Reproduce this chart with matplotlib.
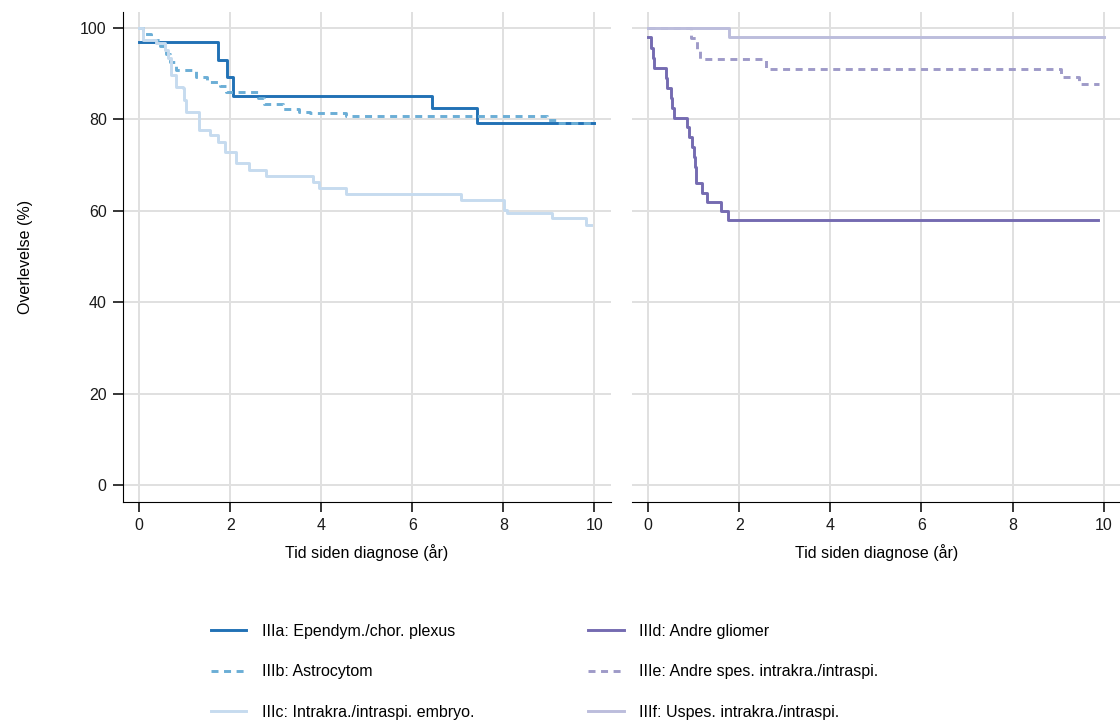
import numpy as np
import matplotlib
matplotlib.use("Agg")
import matplotlib.pyplot as plt

plt.rcParams['font.family'] = ['Liberation Sans', 'DejaVu Sans']

# Kaplan-Meier kurver, aflest fra figuren (tid i år, overlevelse i %)
t_a = [0, 1.74, 1.92, 2.05, 6.43, 7.43, 10.0]
s_a = [96.9, 93.0, 89.2, 85.2, 82.4, 79.1, 79.1]

t_b = [0, 0.08, 0.25, 0.45, 0.58, 0.68, 0.8, 1.25, 1.48, 1.77, 1.9, 2.6, 2.75, 3.15, 3.5, 3.75, 4.55, 8.95, 9.2, 10.0]
s_b = [100, 98.6, 97.3, 96.0, 94.3, 92.5, 90.9, 89.2, 88.1, 87.4, 85.9, 84.6, 83.4, 82.2, 81.7, 81.3, 80.7, 79.9, 79.3, 79.3]

t_c = [0, 0.08, 0.37, 0.56, 0.63, 0.7, 0.81, 0.96, 0.99, 1.03, 1.31, 1.55, 1.73, 1.88, 2.13, 2.42, 2.79, 3.81, 3.96, 4.54, 7.07, 8.02, 8.09, 9.08, 9.81, 9.92]
s_c = [100, 97.4, 96.6, 95.2, 93.4, 89.7, 87.1, 86.8, 84.2, 81.7, 77.7, 76.6, 75.1, 72.9, 70.4, 68.9, 67.6, 66.4, 64.9, 63.7, 62.3, 60.2, 59.6, 58.4, 56.9, 56.9]

t_d = [0, 0.06, 0.1, 0.13, 0.38, 0.42, 0.5, 0.53, 0.57, 0.86, 0.89, 0.97, 1.0, 1.03, 1.05, 1.17, 1.3, 1.59, 1.74, 9.88]
s_d = [98.0, 95.6, 93.4, 91.3, 89.0, 86.8, 84.6, 82.4, 80.2, 78.4, 76.2, 73.9, 71.7, 69.5, 66.1, 64.0, 62.0, 60.0, 58.0, 58.0]

t_e = [0, 0.94, 1.06, 1.14, 2.59, 9.07, 9.47, 9.89]
s_e = [100, 97.7, 95.2, 93.1, 91.0, 89.3, 87.7, 87.7]

t_f = [0, 1.78, 10.0]
s_f = [100, 97.9, 97.9]

labels = ["IIIa: Ependym./chor. plexus", "IIIb: Astrocytom", "IIIc: Intrakra./intraspi. embryo.",
          "IIId: Andre gliomer", "IIIe: Andre spes. intrakra./intraspi.", "IIIf: Uspes. intrakra./intraspi."]
farger = ["#2171b5", "#6baed6", "#c6dbef", "#756bb1", "#9e9ac8", "#bcbddc"]

fig = plt.figure(figsize=(11.2, 7.26), dpi=100)
ax1 = fig.add_axes([0.1101, 0.309, 0.4352, 0.674])
ax2 = fig.add_axes([0.5646, 0.309, 0.4354, 0.674])

lw = 2.1
dash = (0, (2.4, 1.9))
l1, = ax1.step(t_a, s_a, where='post', color=farger[0], lw=lw)
l2, = ax1.step(t_b, s_b, where='post', color=farger[1], lw=lw, linestyle=dash)
l3, = ax1.step(t_c, s_c, where='post', color=farger[2], lw=lw)
l4, = ax2.step(t_d, s_d, where='post', color=farger[3], lw=lw)
l5, = ax2.step(t_e, s_e, where='post', color=farger[4], lw=lw, linestyle=dash)
l6, = ax2.step(t_f, s_f, where='post', color=farger[5], lw=lw)

for ax in (ax1, ax2):
    ax.set_xlim(-0.35, 10.36)
    ax.set_ylim(-3.6, 103.4)
    ax.set_xticks([0, 2, 4, 6, 8, 10])
    ax.set_yticks([0, 20, 40, 60, 80, 100])
    ax.grid(True, color="#e0e0e0", lw=1.4)
    ax.set_axisbelow(True)
    ax.spines['top'].set_visible(False)
    ax.spines['right'].set_visible(False)
    ax.tick_params(length=7, width=1.1, labelsize=11.5, labelcolor="#1a1a1a", pad=5)
    ax.set_xlabel("Tid siden diagnose (år)", fontsize=11.5, labelpad=8)

ax2.spines['left'].set_visible(False)
ax2.tick_params(axis='y', left=False, labelleft=False)
ax1.set_ylabel("Overlevelse (%)", fontsize=11.5, labelpad=34)

fig.legend([l1, l2, l3, l4, l5, l6], labels, loc='upper left', bbox_to_anchor=(0.188, 0.141),
           ncol=2, frameon=False, fontsize=11.5, handlelength=2.25, handletextpad=0.95,
           columnspacing=7.1, labelspacing=1.6, borderpad=0, borderaxespad=0)

fig.savefig("out.png", dpi=100)
